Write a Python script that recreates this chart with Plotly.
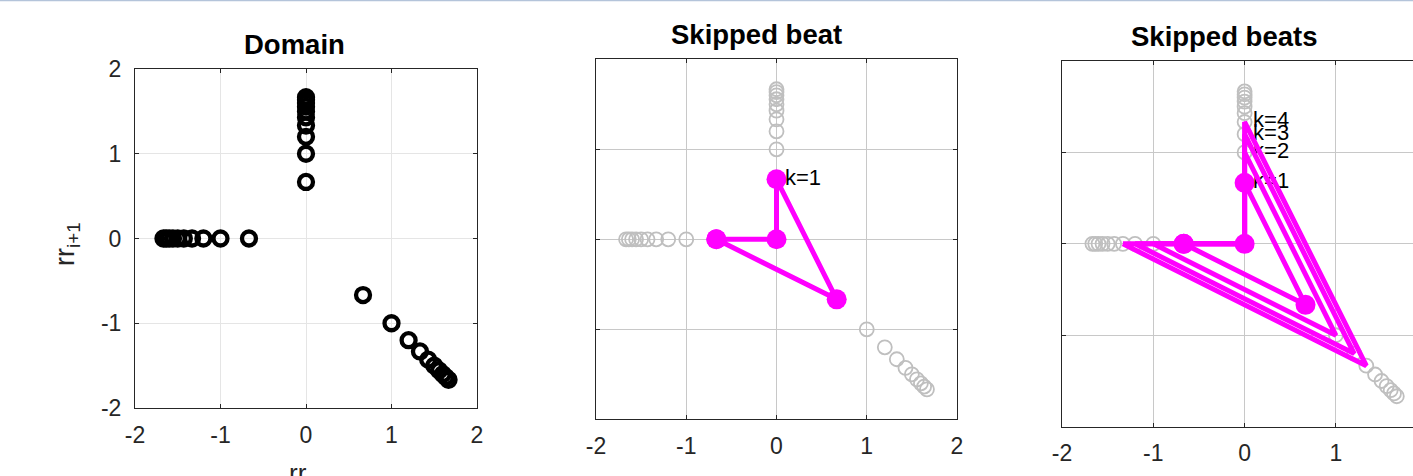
import plotly.graph_objects as go

W, H = 1413, 476

# ---- data ----
branch_up_x = [0, 0, 0, 0, 0, 0, 0, 0, 0, 0]
branch_up_y = [0.667, 1.0, 1.2, 1.333, 1.429, 1.5, 1.556, 1.6, 1.636, 1.667]
branch_left_x = [-0.667, -1.0, -1.2, -1.333, -1.429, -1.5, -1.556, -1.6, -1.636, -1.667]
branch_left_y = [0, 0, 0, 0, 0, 0, 0, 0, 0, 0]
branch_diag_x = [0.667, 1.0, 1.2, 1.333, 1.429, 1.5, 1.556, 1.6, 1.636, 1.667]
branch_diag_y = [-0.667, -1.0, -1.2, -1.333, -1.429, -1.5, -1.556, -1.6, -1.636, -1.667]

k_labels = ["k=1", "k=2", "k=3", "k=4"]
k_top = [0.667, 1.0, 1.2, 1.333]
path_x_k1 = [-0.667, 0, 0, 0.667, -0.667]
path_y_k1 = [0, 0, 0.667, -0.667, 0]
path_x_k2 = [-1.0, 0, 0, 1.0, -1.0]
path_y_k2 = [0, 0, 1.0, -1.0, 0]
path_x_k3 = [-1.2, 0, 0, 1.2, -1.2]
path_y_k3 = [0, 0, 1.2, -1.2, 0]
path_x_k4 = [-1.333, 0, 0, 1.333, -1.333]
path_y_k4 = [0, 0, 1.333, -1.333, 0]
paths = [(path_x_k1, path_y_k1), (path_x_k2, path_y_k2),
         (path_x_k3, path_y_k3), (path_x_k4, path_y_k4)]

titles = ["Domain", "Skipped beat", "Skipped beats"]
tick_vals = [-2, -1, 0, 1, 2]
tick_text = ["-2", "-1", "0", "1", "2"]

FONT = "Liberation Sans, Arial, Helvetica, sans-serif"
AXC = "#262626"
MAG = "#ff00ff"
GRAY = "#bfbfbf"
TICK_SIZE = 23
TITLE_SIZE = 27.5
LABEL_SIZE = 22

dom_x = branch_up_x + branch_left_x + branch_diag_x
dom_y = branch_up_y + branch_left_y + branch_diag_y

fig = go.Figure()


def label_trace(i, xa, ya):
    return go.Scatter(x=[0], y=[k_top[i]], text=[k_labels[i]], mode="markers+text",
                      xaxis=xa, yaxis=ya, textposition="middle right",
                      marker=dict(size=12, color="rgba(0,0,0,0)"),
                      textfont=dict(family=FONT, size=LABEL_SIZE, color="black"),
                      showlegend=False, hoverinfo="skip")


# panel 1: domain
fig.add_trace(go.Scatter(x=dom_x, y=dom_y, mode="markers", xaxis="x", yaxis="y",
                         marker=dict(symbol="circle-open", size=14, color="black",
                                     line=dict(width=4.3, color="black")),
                         showlegend=False, hoverinfo="skip"))

# panel 2: single skipped beat
fig.add_trace(go.Scatter(x=dom_x, y=dom_y, mode="markers", xaxis="x2", yaxis="y2",
                         marker=dict(symbol="circle-open", size=14, color=GRAY,
                                     line=dict(width=1.8, color=GRAY)),
                         showlegend=False, hoverinfo="skip"))
fig.add_trace(go.Scatter(x=path_x_k1, y=path_y_k1, mode="lines+markers", xaxis="x2", yaxis="y2",
                         line=dict(color=MAG, width=5),
                         marker=dict(size=20, color=MAG),
                         showlegend=False, hoverinfo="skip"))
fig.add_trace(label_trace(0, "x2", "y2"))

# panel 3: multiple skipped beats
fig.add_trace(go.Scatter(x=dom_x, y=dom_y, mode="markers", xaxis="x3", yaxis="y3",
                         marker=dict(symbol="circle-open", size=14, color=GRAY,
                                     line=dict(width=1.8, color=GRAY)),
                         showlegend=False, hoverinfo="skip"))
for i, (px, py) in enumerate(paths):
    fig.add_trace(go.Scatter(x=px, y=py, mode="lines+markers" if i == 0 else "lines",
                             xaxis="x3", yaxis="y3",
                             line=dict(color=MAG, width=5),
                             marker=dict(size=20, color=MAG),
                             showlegend=False, hoverinfo="skip"))
    fig.add_trace(label_trace(i, "x3", "y3"))


def px2x(p):
    return p / W


def px2y(p):
    return 1 - p / H


domains = [
    ((135, 477), (69, 408), [-2, 2], "#e5e5e5", True),
    ((596, 957), (59.3, 419.3), [-2, 2], "#c8c8c8", False),
    ((1062, 1413), (61, 426.7), [-2, -2 + (1413 - 1062) / 91.3], "#c8c8c8", False),
]
title_centers = [294, 757, 1223.5]

layout = dict(
    template="none",
    width=W, height=H, margin=dict(l=0, r=0, t=0, b=0, autoexpand=False),
    paper_bgcolor="white", plot_bgcolor="white",
    font=dict(family=FONT, color=AXC, size=TICK_SIZE),
    showlegend=False,
)

annotations = []
for i, ((xl, xr), (yt, yb), xr_range, gridc, ylabels) in enumerate(domains):
    sx = "" if i == 0 else str(i + 1)
    ymirror = "ticks" if i < 2 else False
    layout["xaxis" + sx] = dict(
        domain=[px2x(xl), min(1.0, px2x(xr))], range=xr_range, anchor="y" + sx,
        automargin=False,
        tickmode="array", tickvals=tick_vals, ticktext=tick_text,
        showgrid=True, gridcolor=gridc, gridwidth=1, zeroline=False,
        showline=True, linecolor=AXC, linewidth=1, mirror="ticks",
        ticks="inside", ticklen=4, tickcolor=AXC, tickwidth=1,
        tickfont=dict(family=FONT, size=TICK_SIZE, color=AXC), ticklabelstandoff=6,
    )
    layout["yaxis" + sx] = dict(
        domain=[px2y(yb), px2y(yt)], range=[-2, 2], anchor="x" + sx,
        automargin=False,
        tickmode="array", tickvals=tick_vals, ticktext=tick_text,
        showgrid=True, gridcolor=gridc, gridwidth=1, zeroline=False,
        showline=True, linecolor=AXC, linewidth=1, mirror=ymirror,
        ticks="inside", ticklen=4, tickcolor=AXC, tickwidth=1,
        showticklabels=ylabels,
        tickfont=dict(family=FONT, size=TICK_SIZE, color=AXC), ticklabelstandoff=8,
    )
    annotations.append(dict(
        text="<b>" + titles[i] + "</b>", xref="paper", yref="paper",
        x=px2x(title_centers[i]), y=px2y(yt - 7), xanchor="center", yanchor="bottom",
        showarrow=False, font=dict(family=FONT, size=TITLE_SIZE, color="black"),
    ))

# axis titles of panel 1
annotations.append(dict(
    text="rr", xref="paper", yref="paper", x=px2x(298), y=px2y(456),
    xanchor="center", yanchor="top", showarrow=False,
    font=dict(family=FONT, size=26, color=AXC),
))
annotations.append(dict(
    text="rr<sub>i+1</sub>", xref="paper", yref="paper", x=px2x(86), y=px2y(244),
    xanchor="right", yanchor="middle", showarrow=False, textangle=-90,
    font=dict(family=FONT, size=27, color=AXC),
))
layout["annotations"] = annotations

# thin window border line at the very top
layout["shapes"] = [dict(type="line", xref="paper", yref="paper", x0=0, x1=1,
                         y0=1 - 0.5 / H, y1=1 - 0.5 / H,
                         line=dict(color="#b4c4da", width=1.5))]

fig.update_layout(**layout)
fig.write_html("out.html")
